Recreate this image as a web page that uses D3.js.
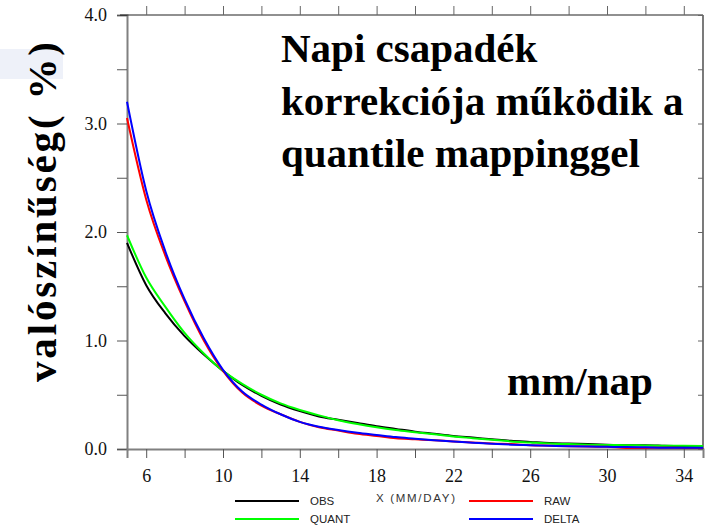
<!DOCTYPE html>
<html><head><meta charset="utf-8">
<script src="https://cdn.jsdelivr.net/npm/d3@7"></script>
<style>html,body{margin:0;padding:0;background:#fff;}svg{display:block;}
.serif{font-family:"Liberation Serif","DejaVu Serif","Noto Serif",serif;}
.sans{font-family:"Liberation Sans","DejaVu Sans",sans-serif;}
</style>
</head><body>
<svg id="c" width="706" height="528"></svg>
<script>
const xVals = [5,6,7,8,9,10,11,12,13,14,15,16,17,18,19,20,21,22,23,24,25,26,27,28,29,30,31,32,33,34,35];
const obs   = [1.90,1.51,1.25,1.04,0.87,0.72,0.59,0.49,0.41,0.35,0.30,0.27,0.24,0.21,0.185,0.16,0.14,0.12,0.105,0.09,0.075,0.065,0.055,0.05,0.045,0.04,0.035,0.035,0.03,0.025,0.02];
const quant = [1.97,1.58,1.31,1.07,0.88,0.72,0.60,0.50,0.42,0.36,0.31,0.265,0.23,0.20,0.175,0.155,0.135,0.115,0.10,0.085,0.07,0.06,0.05,0.045,0.04,0.037,0.035,0.032,0.03,0.03,0.028];
const raw   = [3.05,2.30,1.78,1.36,1.00,0.72,0.52,0.40,0.32,0.25,0.20,0.17,0.14,0.12,0.10,0.09,0.08,0.07,0.06,0.05,0.045,0.035,0.03,0.025,0.022,0.02,0.01,0.01,0.012,0.01,0.01];
const delta = [3.20,2.38,1.82,1.38,1.02,0.73,0.53,0.41,0.32,0.25,0.205,0.175,0.15,0.13,0.11,0.095,0.08,0.068,0.058,0.048,0.04,0.035,0.03,0.025,0.022,0.02,0.018,0.015,0.012,0.012,0.012];
const seriesNames = ["OBS","QUANT","RAW","DELTA"];
const seriesColors = ["#000000","#00ff00","#ff0000","#0000ff"];
const xTickVals = [6,8,10,12,14,16,18,20,22,24,26,28,30,32,34];
const xLabelVals = [6,10,14,18,22,26,30,34];
const yTickVals = [0,0.5,1,1.5,2,2.5,3,3.5,4];
const yLabelVals = [0,1,2,3,4];
const titleLines = ["Napi csapadék","korrekciója működik a","quantile mappinggel"];
const yTitle = "valószínűség( %)";
const unitText = "mm/nap";
const xTitle = "X (MM/DAY)";

const svg = d3.select("#c");
const x = d3.scaleLinear().domain([5,35]).range([127,703]);
const y = d3.scaleLinear().domain([0,4]).range([449,15]);

svg.append("rect").attr("x",0).attr("y",49).attr("width",63).attr("height",30).attr("fill","#eef1f9");

const gL = svg.append("g").attr("transform",`translate(${x.range()[0]},0)`)
  .call(d3.axisLeft(y).tickValues(yTickVals).tickSize(10).tickFormat(d => yLabelVals.includes(d) ? d3.format(".1f")(d) : ""));
const gB = svg.append("g").attr("transform",`translate(0,${y.range()[0]})`)
  .call(d3.axisBottom(x).tickValues(xTickVals).tickSize(9).tickFormat(d => xLabelVals.includes(d) ? d : ""));
const gT = svg.append("g").attr("transform",`translate(0,${y.range()[1]})`)
  .call(d3.axisTop(x).tickValues(xTickVals).tickSize(9).tickFormat(""));
const gR = svg.append("g").attr("transform",`translate(${x.range()[1]},0)`)
  .call(d3.axisLeft(y).tickValues(yTickVals).tickSize(5).tickFormat(""));
[gL,gB,gT,gR].forEach(g => g.attr("font-family",null));
[gL,gB].forEach(g => { g.select(".domain").attr("stroke","#808080").attr("stroke-width",2); g.selectAll(".tick line").attr("stroke","#555"); });
[gT,gR].forEach(g => { g.select(".domain").attr("stroke","#222").attr("stroke-width",1.2); g.selectAll(".tick line").attr("stroke","#666"); });
gL.selectAll(".tick text").attr("class","serif").attr("font-size",18).attr("x",-20).attr("fill","#111");
gB.selectAll(".tick text").attr("class","serif").attr("font-size",18).attr("y",20).attr("fill","#111");
gR.select(".domain").attr("d",`M0,${y.range()[1]}V${y.range()[0]}`);
gT.select(".domain").attr("d",`M120,0H${x.range()[1]}`);

const all = [obs,quant,raw,delta];
const line = d3.line().x((d,i)=>x(xVals[i])).y(d=>y(d)).curve(d3.curveMonotoneX);
all.forEach((s,k)=>{
  svg.append("path").datum(s).attr("d",line).attr("fill","none").attr("stroke",seriesColors[k]).attr("stroke-width",2);
});

const t = svg.append("text").attr("class","serif").attr("font-weight","bold").attr("font-size",41).attr("fill","#000");
titleLines.forEach((s,i)=>t.append("tspan").attr("x",281).attr("y",62+i*52.5).text(s));
svg.append("text").attr("class","serif").attr("x",507).attr("y",395).attr("font-weight","bold").attr("font-size",41).text(unitText);

svg.append("text").attr("class","serif").attr("transform","translate(56,212) rotate(-90)").attr("text-anchor","middle")
  .attr("font-weight","bold").attr("font-size",41).attr("textLength",340).attr("lengthAdjust","spacing").text(yTitle);

const legPos = [[235,501],[235,519],[469,501],[469,519]];
seriesNames.forEach((n,k)=>{
  const [lx,ly] = legPos[k];
  svg.append("line").attr("x1",lx).attr("x2",lx+64).attr("y1",ly).attr("y2",ly).attr("stroke",seriesColors[k]).attr("stroke-width",2);
  svg.append("text").attr("class","sans").attr("x",lx+75).attr("y",ly+4).attr("font-size",11.5).attr("fill","#222").text(n);
});
svg.append("text").attr("class","sans").attr("x",376).attr("y",502).attr("font-size",11.5).attr("fill","#333")
  .attr("textLength",79).attr("lengthAdjust","spacing").text(xTitle);
</script>
</body></html>
